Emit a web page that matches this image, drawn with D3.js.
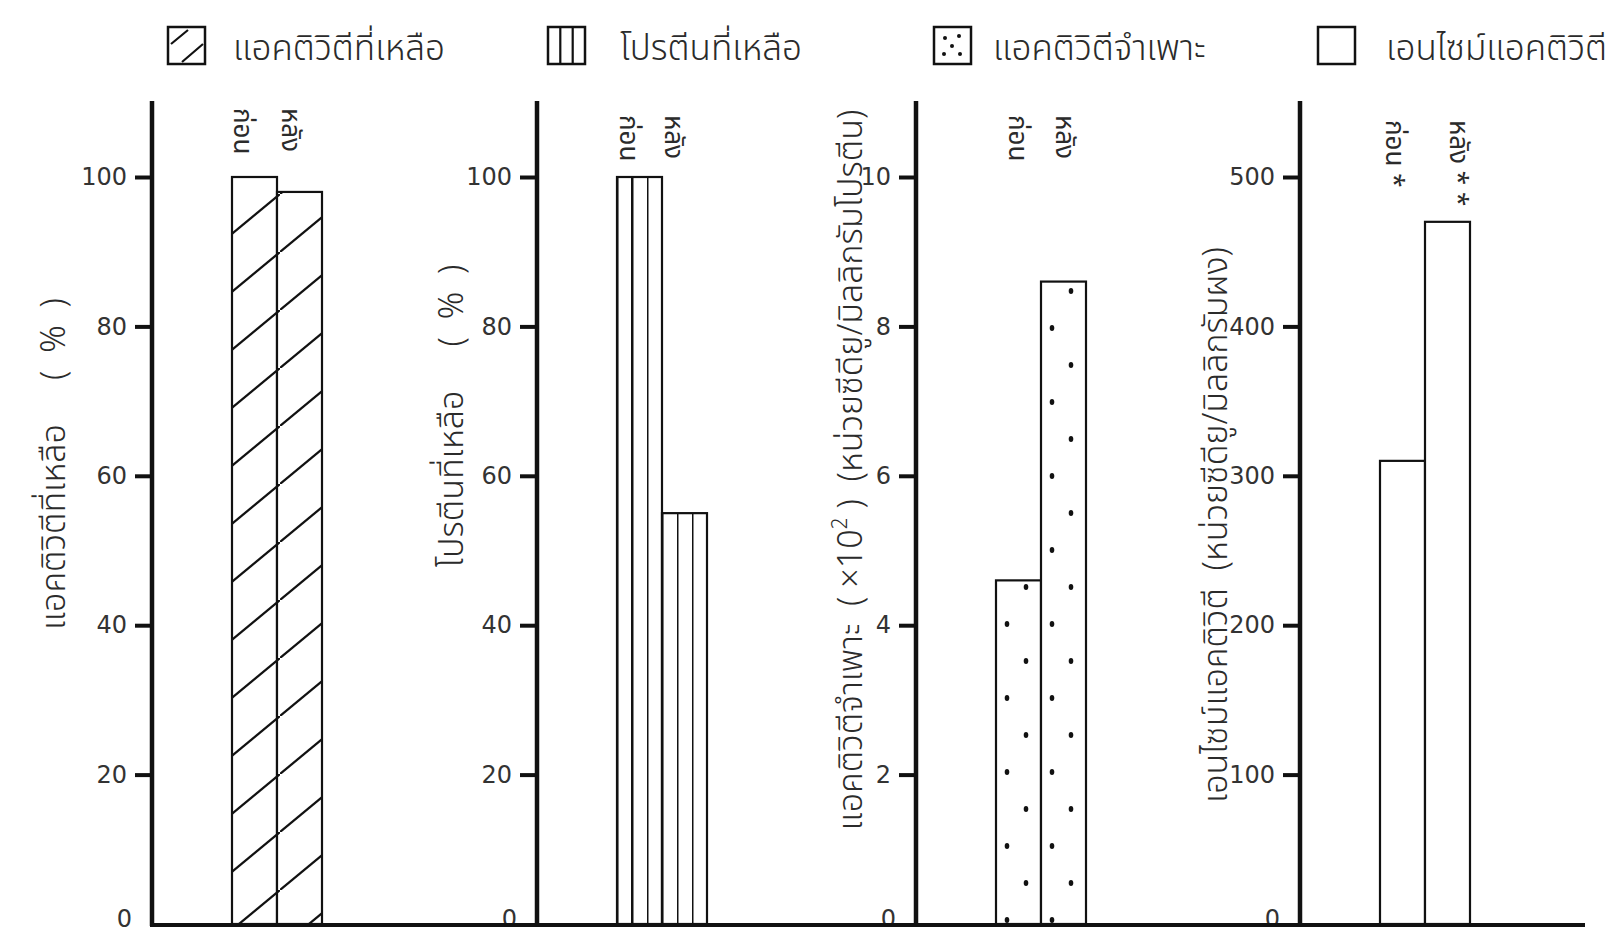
<!DOCTYPE html>
<html>
<head>
<meta charset="utf-8">
<script src="https://cdn.jsdelivr.net/npm/d3@7"></script>
<style>
  body { margin: 0; background: #fff; }
  svg text { fill: #2b2b2b; white-space: pre; }
</style>
</head>
<body>
<script>
const width = 1622;
const height = 933;

// data
const periods = ['ก่อน', 'หลัง'];
const periodMarks = [['', ''], ['', ''], ['', ''], [' *', ' * *']];
const remainingActivity = [100, 98];
const remainingProtein = [100, 55];
const specificActivity = [4.6, 8.6];
const enzymeActivity = [310, 470];
const percentTicks = [0, 20, 40, 60, 80, 100];
const specificTicks = [0, 2, 4, 6, 8, 10];
const enzymeTicks = [0, 100, 200, 300, 400, 500];
const legendLabels = ['แอคติวิตีที่เหลือ', 'โปรตีนที่เหลือ', 'แอคติวิตีจำเพาะ', 'เอนไซม์แอคติวิตี'];
// odd pieces are superscript
const yTitles = [
  ['แอคติวิตีที่เหลือ     (  %  )'],
  ['โปรตีนที่เหลือ     (  %  )'],
  ['แอคติวิตีจำเพาะ  ( ×10', '2', ' )  (หน่วยซีดียู/มิลลิกรัมโปรตีน)'],
  ['เอนไซม์แอคติวิตี  (หน่วยซีดียู/มิลลิกรัมผง)']
];

// layout
const axisX = [152, 537, 916, 1300];
const barOffset = 80;
const barWidth = 45;
const baseY = 924;
const topTickY = 177;
const axisTopY = 101;
const titleX = [65, 463, 862, 1227];
const titleY = [464, 416, 470, 525];
const labelDx = [[2, 5], [3, 3], [13, 15], [6, 25]];
const labelY = [108, 115, 115, 120];
const legendX = [168, 548, 934, 1318];
const thaiFont = "'Noto Sans Thai', 'Noto Sans', sans-serif";

const panels = [
  { values: remainingActivity, ticks: percentTicks, fill: 'url(#hatch)' },
  { values: remainingProtein, ticks: percentTicks, fill: 'url(#stripes)' },
  { values: specificActivity, ticks: specificTicks, fill: 'url(#dots)' },
  { values: enzymeActivity, ticks: enzymeTicks, fill: '#fff' }
];

const svg = d3.select('body')
  .append('svg')
  .attr('width', width)
  .attr('height', height);

svg.append('rect').attr('width', width).attr('height', height).attr('fill', '#fff');

const defs = svg.append('defs');

const hatch = defs.append('pattern')
  .attr('id', 'hatch')
  .attr('patternUnits', 'userSpaceOnUse')
  .attr('width', 70)
  .attr('height', 58)
  .attr('y', 20);
hatch.append('rect').attr('width', 70).attr('height', 58).attr('fill', '#fff');
hatch.append('path')
  .attr('d', 'M-10,66.3 L80,-8.3')
  .attr('stroke', '#111')
  .attr('stroke-width', 2.2);

const stripes = defs.append('pattern')
  .attr('id', 'stripes')
  .attr('patternUnits', 'objectBoundingBox')
  .attr('width', 1 / 3)
  .attr('height', 1);
stripes.append('rect').attr('width', 100).attr('height', 1000).attr('fill', '#fff');
stripes.append('line')
  .attr('x1', 0).attr('x2', 0).attr('y1', 0).attr('y2', 1000)
  .attr('stroke', '#111')
  .attr('stroke-width', 3);

const dots = defs.append('pattern')
  .attr('id', 'dots')
  .attr('patternUnits', 'userSpaceOnUse')
  .attr('x', axisX[2] + barOffset)
  .attr('y', 18)
  .attr('width', barWidth)
  .attr('height', 74);
dots.append('rect').attr('width', barWidth).attr('height', 74).attr('fill', '#fff');
dots.selectAll('ellipse')
  .data([[11, 14], [30, 51]])
  .enter()
  .append('ellipse')
  .attr('cx', d => d[0])
  .attr('cy', d => d[1])
  .attr('rx', 2.3)
  .attr('ry', 3)
  .attr('fill', '#111');

// panels
panels.forEach((p, i) => {
  const x0 = axisX[i];
  const g = svg.append('g');

  const x = d3.scaleBand()
    .domain(periods)
    .range([x0 + barOffset, x0 + barOffset + barWidth * 2]);

  const y = d3.scaleLinear()
    .domain([0, d3.max(p.ticks)])
    .range([baseY, topTickY]);

  const yAxis = d3.axisLeft(y)
    .tickValues(p.ticks)
    .tickSize(17)
    .tickPadding(8)
    .tickFormat(d3.format('d'));

  const ag = g.append('g')
    .attr('transform', 'translate(' + x0 + ',0)')
    .call(yAxis);
  ag.select('.domain').remove();
  ag.selectAll('.tick line')
    .attr('stroke', '#111')
    .attr('stroke-width', 4)
    .attr('opacity', d => d === 0 ? 0 : 1);
  ag.selectAll('.tick text')
    .attr('font-family', "'DejaVu Sans', sans-serif")
    .attr('font-size', 24)
    .attr('dy', d => d === 0 ? '0.12em' : '0.32em')
    .attr('x', d => d === 0 ? -20 : -25)
    .style('fill', '#333');

  g.append('line')
    .attr('x1', x0).attr('x2', x0)
    .attr('y1', axisTopY).attr('y2', baseY + 2)
    .attr('stroke', '#111')
    .attr('stroke-width', 4.5);

  g.selectAll('rect.bar')
    .data(p.values)
    .enter()
    .append('rect')
    .attr('class', 'bar')
    .attr('x', (d, j) => x(periods[j]))
    .attr('y', d => y(d))
    .attr('width', x.bandwidth())
    .attr('height', d => baseY - y(d))
    .attr('fill', p.fill)
    .attr('stroke', '#111')
    .attr('stroke-width', 2.2);

  g.selectAll('text.period')
    .data(periods)
    .enter()
    .append('text')
    .attr('class', 'period')
    .attr('transform', (d, j) => 'translate(' + (x(d) + labelDx[i][j]) + ',' + labelY[i] + ') rotate(90)')
    .attr('font-family', thaiFont)
    .attr('font-size', 26)
    .text((d, j) => d + periodMarks[i][j]);

  const title = g.append('text')
    .attr('transform', 'translate(' + titleX[i] + ',' + titleY[i] + ') rotate(-90)')
    .attr('text-anchor', 'middle')
    .attr('xml:space', 'preserve')
    .attr('font-family', thaiFont)
    .attr('font-weight', 300)
    .attr('font-size', 34);
  yTitles[i].forEach((s, k) => {
    title.append('tspan')
      .attr('baseline-shift', k % 2 ? 'super' : null)
      .attr('font-size', k % 2 ? 21 : null)
      .text(s);
  });
});

// shared baseline
svg.append('line')
  .attr('x1', axisX[0] - 2).attr('x2', 1585)
  .attr('y1', baseY + 1).attr('y2', baseY + 1)
  .attr('stroke', '#111')
  .attr('stroke-width', 4);

// legend
const legend = svg.append('g');
const box = 37;
legendX.forEach((lx, i) => {
  const lg = legend.append('g').attr('transform', 'translate(' + lx + ',27)');
  lg.append('rect')
    .attr('width', box).attr('height', box)
    .attr('fill', '#fff')
    .attr('stroke', '#111')
    .attr('stroke-width', 2.5);
  if (i === 0) {
    lg.append('path').attr('d', 'M3,17 L20,3 M14,35 L35,17').attr('stroke', '#111').attr('stroke-width', 2.2);
  }
  if (i === 1) {
    lg.append('path').attr('d', 'M12.3,0 V37 M24.7,0 V37').attr('stroke', '#111').attr('stroke-width', 2.2);
  }
  if (i === 2) {
    lg.selectAll('circle')
      .data([[11, 11], [25, 9], [18, 19], [10, 27], [26, 27]])
      .enter()
      .append('circle')
      .attr('cx', d => d[0]).attr('cy', d => d[1]).attr('r', 2)
      .attr('fill', '#111');
  }
  lg.append('text')
    .attr('x', [65, 72, 59, 68][i])
    .attr('y', 33)
    .attr('font-family', thaiFont)
    .attr('font-weight', 300)
    .attr('font-size', 35)
    .text(legendLabels[i]);
});
</script>
</body>
</html>
